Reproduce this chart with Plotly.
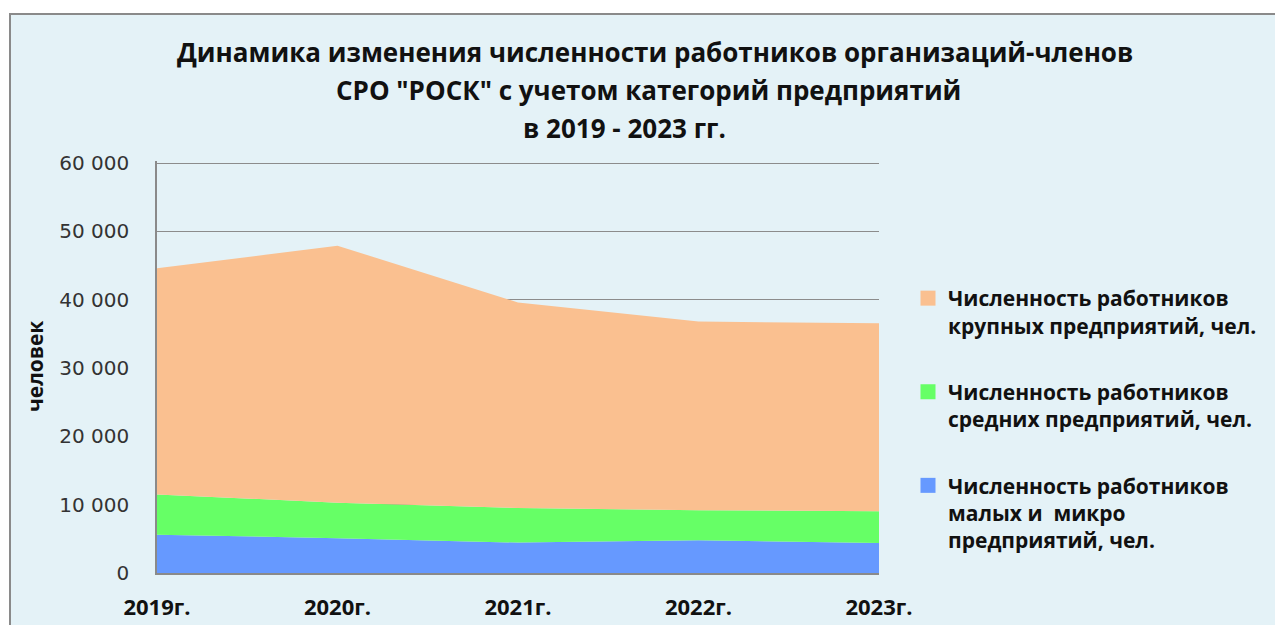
import plotly.graph_objects as go

years = [2019, 2020, 2021, 2022, 2023]
year_labels = ["2019г.", "2020г.", "2021г.", "2022г.", "2023г."]

small = [5600, 5100, 4450, 4800, 4400]
medium = [5900, 5200, 5050, 4400, 4650]
large = [33100, 37600, 30100, 27600, 27500]

name_small = "Численность работников<br>малых и  микро<br>предприятий, чел."
name_medium = "Численность работников<br>средних предприятий, чел."
name_large = "Численность работников<br>крупных предприятий, чел."

y_ticks = [0, 10000, 20000, 30000, 40000, 50000, 60000]
y_tick_labels = ["0", "10 000", "20 000", "30 000", "40 000", "50 000", "60 000"]
y_max = 60300  # a little headroom so the 60 000 gridline is drawn

title_lines = [
    "Динамика изменения численности работников организаций-членов",
    "СРО \"РОСК\" с учетом категорий предприятий",
    "в 2019 - 2023 гг.",
]

c_small = "#6699FF"
c_medium = "#66FF66"
c_large = "#FAC090"
bg = "#E4F2F7"

W, H = 1283, 625
OFF = 8  # page body margin
# plot area in screen pixels
PL, PR, PT, PB = 157, 879, 161, 573
pw, ph = PR - PL, PB - PT
L, T = PL - OFF, PT - OFF
R = W - (PR - OFF)
B = H - (PB - OFF)


def px_x(p):
    return (p - PL) / pw


def px_y(p):
    return (PB - p) / ph


fig = go.Figure()
for vals, col in [(small, c_small), (medium, c_medium), (large, c_large)]:
    fig.add_trace(go.Scatter(
        x=years, y=vals, stackgroup="one", mode="none",
        fillcolor=col, showlegend=False, hoverinfo="x+y"))

for i, (nm, col) in enumerate([(name_large, c_large), (name_medium, c_medium), (name_small, c_small)]):
    fig.add_trace(go.Scatter(
        x=[None], y=[None], mode="markers", name=f"<b>{nm}</b>".replace("<br>", "</b><br><b>"),
        legendgroup=f"g{i}",
        marker=dict(symbol="square", size=15, color=col)))

annotations = []
title_px = [(655, 52), (648, 90), (624, 128)]
for txt, (cx, cy) in zip(title_lines, title_px):
    annotations.append(dict(
        text=f"<b>{txt}</b>", xref="paper", yref="paper",
        x=px_x(cx), y=px_y(cy), xanchor="center", yanchor="middle",
        showarrow=False, font=dict(family="Open Sans", size=26, color="#111")))

annotations.append(dict(
    text="<b>человек</b>", xref="paper", yref="paper",
    x=px_x(35), y=px_y(367), xanchor="center", yanchor="middle",
    textangle=-90, showarrow=False,
    font=dict(family="Open Sans", size=21, color="#111")))

fig.update_layout(
    width=W, height=H,
    margin=dict(l=L, r=R, t=T, b=B, autoexpand=False),
    paper_bgcolor="white",
    plot_bgcolor="rgba(0,0,0,0)",
    annotations=annotations,
    shapes=[dict(type="rect", xref="paper", yref="paper", layer="below",
                 x0=px_x(10), x1=px_x(1320), y0=px_y(660), y1=px_y(14),
                 fillcolor=bg, line=dict(color="#8A8A8A", width=2))],
    legend=dict(
        x=px_x(908), y=px_y(278), xanchor="left", yanchor="top",
        traceorder="grouped", valign="top", tracegroupgap=36,
        bgcolor="rgba(0,0,0,0)",
        font=dict(family="Open Sans", size=21, color="#111")),
    xaxis=dict(
        range=[2019, 2023], tickvals=years,
        ticktext=[f"<b>{t}</b>" for t in year_labels],
        showgrid=False, zeroline=False, showline=True,
        linecolor="#8A8A8A", linewidth=1.5, ticks="",
        ticklabelstandoff=14,
        tickfont=dict(family="Open Sans", size=22, color="#111")),
    yaxis=dict(
        range=[0, y_max], tickvals=y_ticks, ticktext=y_tick_labels,
        showgrid=True, gridcolor="#8C8C8C", gridwidth=1,
        zeroline=False, showline=True, linecolor="#8A8A8A", linewidth=1.5,
        ticks="", ticklabelstandoff=22,
        tickfont=dict(family="DejaVu Sans", size=20, color="#333")),
)

fig.write_html("out.html")
